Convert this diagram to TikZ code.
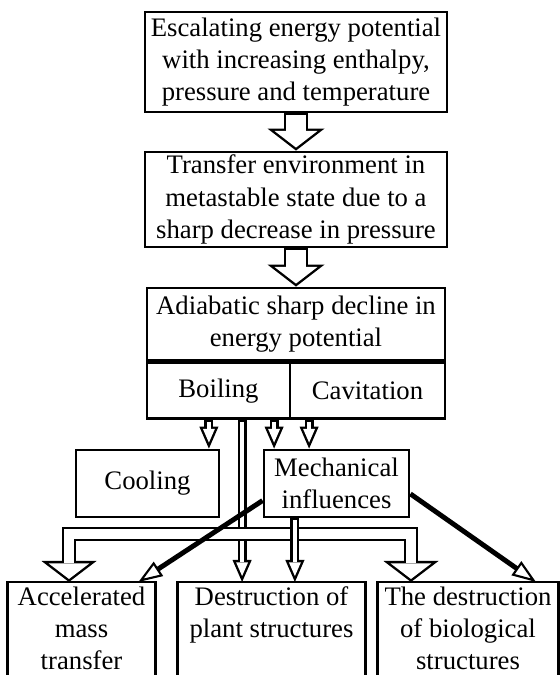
\documentclass[tikz,border=0pt]{standalone}
\usepackage{fontspec}
\setmainfont{Liberation Serif}
\usetikzlibrary{arrows.meta}
\begin{document}
\begin{tikzpicture}[x=1cm,y=1cm,
  box/.style={draw, line width=2pt, align=center, inner sep=2pt, font=\fontsize{19}{23}\selectfont},
  openbox/.style={line width=2pt},
  bigarrow/.style={line width=0.6cm, -{Triangle[length=0.55cm 0 0, width=1.425cm 0 0, line width=0pt 0 0]},
    postaction={draw=white, line width=0.48cm, shorten <=1.2pt, shorten >=0.076cm,
      -{Triangle[length=0.414cm 0 0, width=1.073cm 0 0, line width=0pt 0 0]}}},
  thinarrow/.style={line width=0.225cm, -{Triangle[length=0.55cm 0 0, width=0.48cm 0 0, line width=0pt 0 0]},
    postaction={draw=white, line width=0.105cm, shorten <=1.2pt, shorten >=0.15cm,
      -{Triangle[length=0.34cm 0 0, width=0.297cm 0 0, line width=0pt 0 0]}}},
  tube/.style={line width=0.35cm, {Triangle[length=0.525cm 0 0, width=1.375cm 0 0, line width=0pt 0 0]}-{Triangle[length=0.525cm 0 0, width=1.375cm 0 0, line width=0pt 0 0]},
    postaction={draw=white, line width=0.23cm, shorten <=0.076cm, shorten >=0.076cm,
      {Triangle[length=0.389cm 0 0, width=1.019cm 0 0, line width=0pt 0 0]}-{Triangle[length=0.389cm 0 0, width=1.019cm 0 0, line width=0pt 0 0]}}},
  diag/.style={line width=3.5pt, -{Triangle[open, length=0.6cm 0 0, width=0.42cm 0 0, line width=1.5pt 0 0]}}]
\useasboundingbox (0,0) rectangle (14,16.875);
% upper chain
\node[box, minimum width=7.55cm, minimum height=2.5cm] (esc) at (7.4,15.325) {Escalating energy potential\\with increasing enthalpy,\\pressure and temperature};
\node[box, minimum width=7.55cm, minimum height=2.375cm] (trans) at (7.4,11.8875) {Transfer environment in\\metastable state due to a\\sharp decrease in pressure};
\node[box, minimum width=7.45cm, minimum height=1.8cm] (adiab) at (7.4,8.775) {Adiabatic sharp decline in\\energy potential};
\node[box, anchor=north west, minimum width=3.575cm, minimum height=1.4cm] (boil) at (adiab.south west) {Boiling};
\node[box, anchor=north east, minimum width=3.875cm, minimum height=1.4cm] (cav) at (adiab.south east) {Cavitation};
% middle row
\node[box, minimum width=3.575cm, minimum height=1.675cm] (cool) at (3.6875,4.7875) {Cooling};
\node[box, minimum width=3.625cm, minimum height=1.675cm] (mech) at (8.4125,4.7875) {Mechanical\\influences};
% bottom row, boxes run past the lower edge
\node[box, draw=none, anchor=north, minimum width=3.625cm, minimum height=2.25cm] (accel) at (2.0375,2.325) {Accelerated\\mass\\transfer};
\node[box, draw=none, anchor=north, minimum width=4.625cm, minimum height=2.25cm] (plant) at (6.7875,2.325) {Destruction of\\plant structures\\ \mbox{}};
\node[box, draw=none, anchor=north, minimum width=4.45cm, minimum height=2.25cm] (bio) at (11.7,2.325) {The destruction\\of biological\\structures};
\draw[openbox] ([yshift=-0.3cm]accel.south west) |- (accel.north) -| ([yshift=-0.3cm]accel.south east);
\draw[openbox] ([yshift=-0.3cm]plant.south west) |- (plant.north) -| ([yshift=-0.3cm]plant.south east);
\draw[openbox] ([yshift=-0.3cm]bio.south west) |- (bio.north) -| ([yshift=-0.3cm]bio.south east);
\coordinate (bandl) at (1.725,3.525);
\coordinate (bandr) at (10.275,3.525);
\draw[bigarrow] (esc) -- (trans);
\draw[bigarrow] (trans) -- (adiab);
\draw[thinarrow] ([xshift=-0.24cm]boil.south) -- ([xshift=-0.24cm]boil.south |- cool.north);
\draw[thinarrow] ([xshift=1.39cm]boil.south) -- ([xshift=1.39cm]boil.south |- mech.north);
\draw[thinarrow] ([xshift=-1.46cm]cav.south) -- ([xshift=-1.46cm]cav.south |- mech.north);
\draw[thinarrow] ([xshift=0.59cm]boil.south) -- ([xshift=0.59cm]boil.south |- plant.north);
\draw[tube] (bandl |- accel.north) -- (bandl) -- (bandr) -- (bandr |- bio.north);
\draw[thinarrow] ([xshift=-1.04cm]mech.south) -- ([xshift=-1.04cm]mech.south |- plant.north);
\draw[diag] (mech.193) -- ([xshift=-0.425cm]accel.north east);
\draw[diag] (mech.352) -- ([xshift=1.7cm]bio.north);
\end{tikzpicture}
\end{document}
